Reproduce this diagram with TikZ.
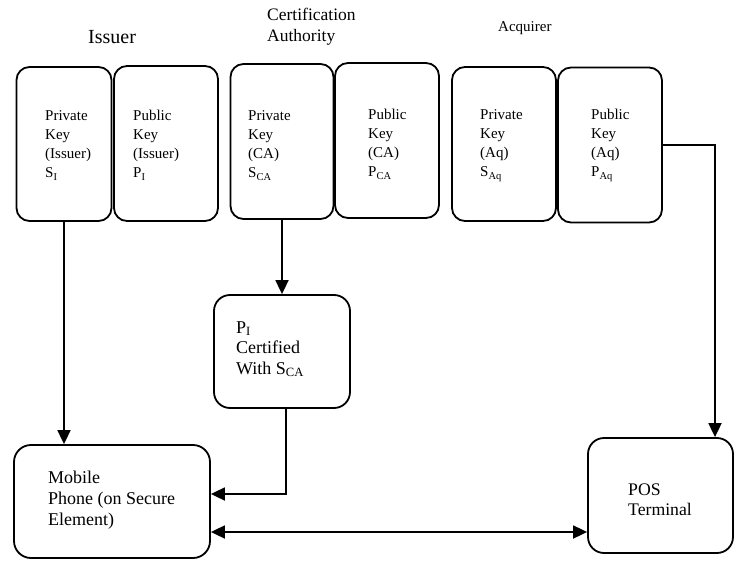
\documentclass[tikz,border=0pt]{standalone}
\usepackage{fontspec}
\setmainfont{Liberation Serif}
\usetikzlibrary{arrows.meta}
\tikzset{
  keybox/.style={draw, line width=1.8pt, rounded corners=13pt, inner sep=0pt},
  bigbox/.style={draw, line width=1.8pt, rounded corners=16pt, inner sep=0pt},
  keytext/.style={anchor=base west, inner sep=0pt, align=left, font=\fontsize{15}{19}\selectfont},
  boxtext/.style={anchor=base west, inner sep=0pt, align=left, font=\fontsize{18}{21}\selectfont},
  conn/.style={line width=1.8pt, -{Triangle[length=14pt,width=13pt]}},
  dconn/.style={line width=1.8pt, {Triangle[length=14pt,width=13pt]}-{Triangle[length=14pt,width=13pt]}}
}
\begin{document}
\begin{tikzpicture}[x=1pt,y=-1pt]
\useasboundingbox (0,0) rectangle (741,561);

% group headings (multi-line texts are placed by the baseline of their last line)
\node[anchor=base west, inner sep=0pt, font=\fontsize{20}{24}\selectfont] (hiss) at (88,44) {Issuer};
\node[anchor=base west, inner sep=0pt, align=left, font=\fontsize{17.5}{21}\selectfont] (hca) at (267,42) {Certification\\Authority};
\node[anchor=base west, inner sep=0pt, font=\fontsize{15}{18}\selectfont] (hacq) at (498,32) {Acquirer};

% key boxes
\node[keybox, minimum width=95pt,  minimum height=154pt] (b1) at (64,144) {};
\node[keybox, minimum width=104pt, minimum height=155pt] (b2) at (166,143.5) {};
\node[keybox, minimum width=103pt, minimum height=155pt] (b3) at (282,141.5) {};
\node[keybox, minimum width=104pt, minimum height=155pt] (b4) at (387,140.5) {};
\node[keybox, minimum width=104pt, minimum height=154pt] (b5) at (504,144) {};
\node[keybox, minimum width=104pt, minimum height=155pt] (b6) at (610,145) {};

\node[keytext] (b1t) at (45,178)  {Private\\Key\\(Issuer)\\S\textsubscript{I}};
\node[keytext] (b2t) at (133,178) {Public\\Key\\(Issuer)\\P\textsubscript{I}};
\node[keytext] (b3t) at (248,178) {Private\\Key\\(CA)\\S\textsubscript{CA}};
\node[keytext] (b4t) at (368,177) {Public\\Key\\(CA)\\P\textsubscript{CA}};
\node[keytext] (b5t) at (480,177) {Private\\Key\\(Aq)\\S\textsubscript{Aq}};
\node[keytext] (b6t) at (591,177) {Public\\Key\\(Aq)\\P\textsubscript{Aq}};

% certificate, phone and terminal
\node[bigbox, minimum width=136pt, minimum height=113pt] (cert) at (282,351.5) {};
\node[boxtext, font=\fontsize{18}{20.5}\selectfont] (certt) at (236,374) {P\textsubscript{I}\\Certified\\With S\textsubscript{CA}};

\node[bigbox, rounded corners=17pt, minimum width=196pt, minimum height=113pt] (mob) at (112,501.5) {};
\node[boxtext] (mobt) at (48,525) {Mobile\\Phone (on Secure\\Element)};

\node[bigbox, minimum width=145pt, minimum height=115pt] (pos) at (660.5,495.5) {};
\node[boxtext, font=\fontsize{17.7}{19.5}\selectfont] (post) at (628,515) {POS\\Terminal};

% connectors
\draw[conn] (b1.south) -- (b1.south |- mob.north);
\draw[conn] (b3.south) -- (b3.south |- cert.north);
\draw[conn] ([xshift=4pt]cert.south) |- ([yshift=7.5pt]mob.east);
\draw[dconn] ([yshift=-30.5pt]mob.east) -- ([yshift=-30.5pt]mob.east -| pos.west);
\draw[conn] (b6.east) -| ([xshift=54.5pt]pos.north);
\end{tikzpicture}
\end{document}
